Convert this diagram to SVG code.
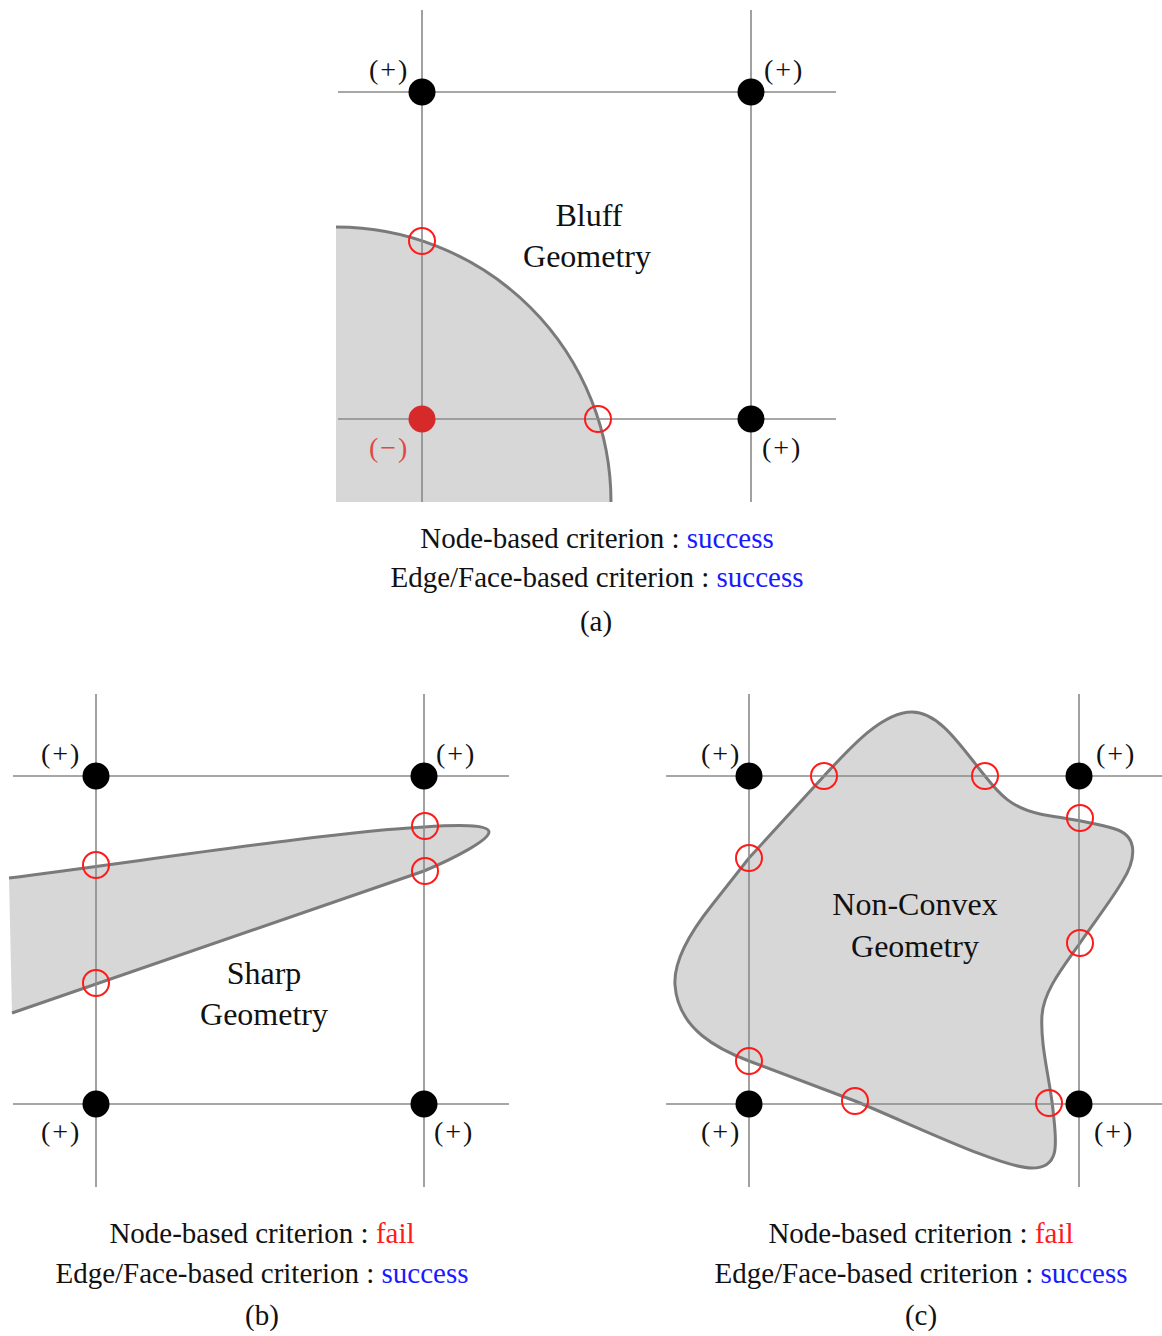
<svg xmlns="http://www.w3.org/2000/svg" width="1162" height="1336" viewBox="0 0 1162 1336">
<style>
text{font-family:"Liberation Serif","Times New Roman",serif;fill:#111}
.sign{font-size:28px;letter-spacing:2px}
.title{font-size:32px;text-anchor:middle}
.cap{font-size:29px;text-anchor:middle}
.grid{stroke:#8a8a8a;stroke-width:1.6;fill:none}
.body{fill:#d7d7d7;stroke:none}
.edge{fill:none;stroke:#7a7a7a;stroke-width:3}
.pos{fill:#000}
.neg{fill:#d62a2a}
.cut{fill:none;stroke:#ff1a1a;stroke-width:2}
.ok{fill:#1a1aff}
.bad{fill:#ff1a1a}
</style>
<rect width="1162" height="1336" fill="#fff"/>

<!-- Panel (a) -->
<g id="geom-a">
<path class="body" d="M336,227 A275,275 0 0 1 611,502 L336,502 Z"/>
<path class="edge" d="M336,227 A275,275 0 0 1 611,502"/>
<text class="title" x="589" y="226">Bluff</text>
<text class="title" x="587" y="267">Geometry</text>
</g>
<!-- Panel (b) -->
<g id="geom-b">
<path class="body" d="M9,878 C150,860 330,832 424,827 C455,825 489,824 489,832 C489,840 455,858 424,871 L12,1013 Z"/>
<path class="edge" d="M9,878 C150,860 330,832 424,827 C455,825 489,824 489,832 C489,840 455,858 424,871 L12,1013"/>
<text class="title" x="264" y="984">Sharp</text>
<text class="title" x="264" y="1025">Geometry</text>
</g>
<!-- Panel (c) -->
<g id="geom-c">
<path class="body edge" style="fill:#d7d7d7" d="M912,712 C940,712 962,748 985,776 C1000,795 1012,808 1040,814 C1060,818 1095,822 1118,830 C1138,838 1136,860 1122,882 C1108,905 1092,925 1080,943 C1064,966 1044,990 1042,1015 C1040,1045 1050,1080 1053,1110 C1056,1140 1062,1168 1032,1168 C1002,1168 920,1128 855,1101 L749,1061 C720,1050 678,1030 675,985 C673,955 700,920 712,905 L749,858 L824,776 C850,748 882,712 912,712 Z"/>
<text class="title" x="915" y="915">Non-Convex</text>
<text class="title" x="915" y="957">Geometry</text>
</g>

<g id="connectors">
<line class="grid" x1="422" y1="10" x2="422" y2="502"/>
<line class="grid" x1="751" y1="10" x2="751" y2="502"/>
<line class="grid" x1="338" y1="92" x2="836" y2="92"/>
<line class="grid" x1="338" y1="419" x2="836" y2="419"/>
<line class="grid" x1="96" y1="694" x2="96" y2="1187"/>
<line class="grid" x1="424" y1="694" x2="424" y2="1187"/>
<line class="grid" x1="13" y1="776" x2="509" y2="776"/>
<line class="grid" x1="13" y1="1104" x2="509" y2="1104"/>
<line class="grid" x1="749" y1="694" x2="749" y2="1187"/>
<line class="grid" x1="1079" y1="694" x2="1079" y2="1187"/>
<line class="grid" x1="666" y1="776" x2="1162" y2="776"/>
<line class="grid" x1="666" y1="1104" x2="1162" y2="1104"/>
</g>

<!-- nodes panel a -->
<g id="a-n1"><circle class="pos" cx="422" cy="92" r="13.5"/><text class="sign" x="369" y="79">(+)</text></g>
<g id="a-n2"><circle class="pos" cx="751" cy="92" r="13.5"/><text class="sign" x="764" y="79">(+)</text></g>
<g id="a-n3"><circle class="neg" cx="422" cy="419" r="13.5"/><text class="sign" x="369" y="457" style="fill:#e04848">(−)</text></g>
<g id="a-n4"><circle class="pos" cx="751" cy="419" r="13.5"/><text class="sign" x="762" y="457">(+)</text></g>
<g id="a-c1"><circle class="cut" cx="422" cy="241" r="13"/></g>
<g id="a-c2"><circle class="cut" cx="598" cy="419" r="13"/></g>

<!-- nodes panel b -->
<g id="b-n1"><circle class="pos" cx="96" cy="776" r="13.5"/><text class="sign" x="41" y="763">(+)</text></g>
<g id="b-n2"><circle class="pos" cx="424" cy="776" r="13.5"/><text class="sign" x="436" y="763">(+)</text></g>
<g id="b-n3"><circle class="pos" cx="96" cy="1104" r="13.5"/><text class="sign" x="41" y="1141">(+)</text></g>
<g id="b-n4"><circle class="pos" cx="424" cy="1104" r="13.5"/><text class="sign" x="434" y="1141">(+)</text></g>
<g id="b-c1"><circle class="cut" cx="96" cy="865" r="13"/></g>
<g id="b-c2"><circle class="cut" cx="96" cy="983" r="13"/></g>
<g id="b-c3"><circle class="cut" cx="425" cy="826" r="13"/></g>
<g id="b-c4"><circle class="cut" cx="425" cy="871" r="13"/></g>

<!-- nodes panel c -->
<g id="c-n1"><circle class="pos" cx="749" cy="776" r="13.5"/><text class="sign" x="701" y="763">(+)</text></g>
<g id="c-n2"><circle class="pos" cx="1079" cy="776" r="13.5"/><text class="sign" x="1096" y="763">(+)</text></g>
<g id="c-n3"><circle class="pos" cx="749" cy="1104" r="13.5"/><text class="sign" x="701" y="1141">(+)</text></g>
<g id="c-n4"><circle class="pos" cx="1079" cy="1104" r="13.5"/><text class="sign" x="1094" y="1141">(+)</text></g>
<g id="c-c1"><circle class="cut" cx="824" cy="776" r="13"/></g>
<g id="c-c2"><circle class="cut" cx="985" cy="776" r="13"/></g>
<g id="c-c3"><circle class="cut" cx="1080" cy="818" r="13"/></g>
<g id="c-c4"><circle class="cut" cx="749" cy="858" r="13"/></g>
<g id="c-c5"><circle class="cut" cx="1080" cy="943" r="13"/></g>
<g id="c-c6"><circle class="cut" cx="749" cy="1061" r="13"/></g>
<g id="c-c7"><circle class="cut" cx="855" cy="1101" r="13"/></g>
<g id="c-c8"><circle class="cut" cx="1049" cy="1103" r="13"/></g>

<!-- captions -->
<g id="caption-a">
<text class="cap" x="597" y="548">Node-based criterion : <tspan class="ok">success</tspan></text>
<text class="cap" x="597" y="587">Edge/Face-based criterion : <tspan class="ok">success</tspan></text>
<text class="cap" x="596" y="631">(a)</text>
</g>
<g id="caption-b">
<text class="cap" x="262" y="1243">Node-based criterion : <tspan class="bad">fail</tspan></text>
<text class="cap" x="262" y="1283">Edge/Face-based criterion : <tspan class="ok">success</tspan></text>
<text class="cap" x="262" y="1325">(b)</text>
</g>
<g id="caption-c">
<text class="cap" x="921" y="1243">Node-based criterion : <tspan class="bad">fail</tspan></text>
<text class="cap" x="921" y="1283">Edge/Face-based criterion : <tspan class="ok">success</tspan></text>
<text class="cap" x="921" y="1325">(c)</text>
</g>
</svg>
